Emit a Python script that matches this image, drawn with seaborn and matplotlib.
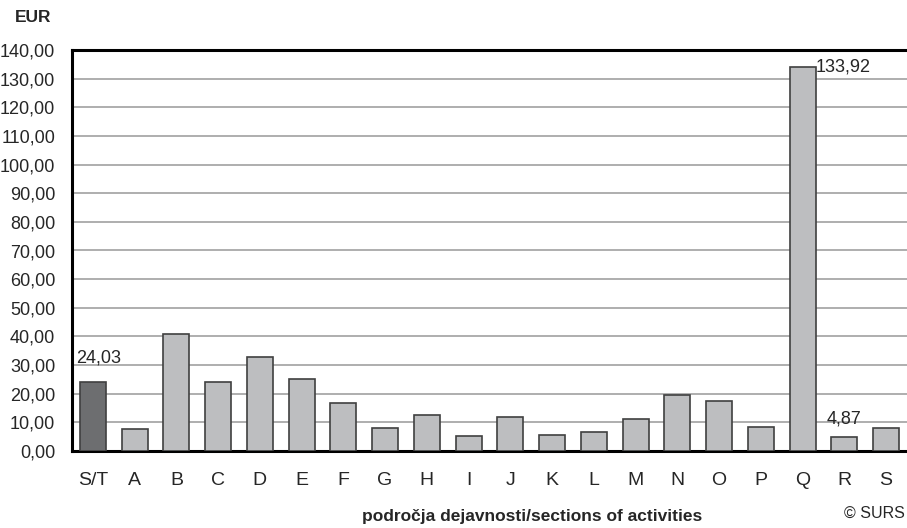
import numpy as np
import pandas as pd
import matplotlib
matplotlib.use("Agg")
import matplotlib.pyplot as plt
import seaborn as sns

categories = ["S/T", "A", "B", "C", "D", "E", "F", "G", "H", "I",
              "J", "K", "L", "M", "N", "O", "P", "Q", "R", "S"]
values = [24.03, 7.6, 41.0, 24.2, 32.9, 25.3, 16.9, 8.1, 12.7, 5.2,
          11.9, 5.6, 6.5, 11.0, 19.4, 17.6, 8.4, 133.92, 4.87, 8.2]
labelled = {"S/T": "24,03", "Q": "133,92", "R": "4,87"}
yticks = np.arange(0, 141, 10)

sns.set_theme(style="white")
plt.rcParams['font.family'] = ['Liberation Sans Narrow', 'Liberation Sans', 'DejaVu Sans']

df = pd.DataFrame({"cat": categories, "val": values})
colors = ["#6d6e70"] + ["#bdbec0"] * (len(categories) - 1)

fig = plt.figure(figsize=(9.07, 5.28), dpi=100)
ax = fig.add_axes([72 / 907, 77 / 528, 835 / 907, 401 / 528])
sns.barplot(data=df, x="cat", y="val", hue="cat", palette=colors, legend=False,
            width=0.62, edgecolor="#404040", linewidth=1.2, ax=ax, zorder=3)

ax.set_xlim(-0.5, -0.5 + 835 / 42.1)
ax.set_ylim(0, 140)
ax.set_yticks(yticks)
ax.set_yticklabels([f"{v:.2f}".replace(".", ",") for v in yticks], fontsize=13)
ax.yaxis.grid(True, color="#a8a8a8", linewidth=1.3, zorder=0)
ax.set_axisbelow(True)
ax.tick_params(axis="y", length=0, pad=12)

ax.set_xticks(np.arange(len(categories)))
ax.set_xticklabels(categories, fontsize=14)
ax.set_xticks(np.arange(len(categories) + 1) - 0.5, minor=True)
ax.tick_params(axis="x", which="major", length=0, pad=15)
ax.tick_params(axis="x", which="minor", length=7, width=1.5, color="black", direction="out")

for s in ["left", "bottom", "top"]:
    ax.spines[s].set_visible(True)
    ax.spines[s].set_color("black")
    ax.spines[s].set_linewidth(2.2)
ax.spines["right"].set_visible(False)

ax.set_xlabel("")
ax.set_ylabel("")

for i, c in enumerate(categories):
    if c not in labelled:
        continue
    v = values[i]
    if c == "Q":
        ax.text(i + 0.32, v + 0.3, labelled[c], fontsize=13, ha="left", va="center")
    elif c == "S/T":
        ax.text(i - 0.4, v + 5.5, labelled[c], fontsize=13, ha="left", va="bottom")
    else:
        ax.text(i, v + 3.5, labelled[c], fontsize=13, ha="center", va="bottom")

fig.text(15 / 907, 1 - 17 / 528, "EUR", fontsize=12.5, fontweight="bold", va="center", ha="left")
fig.text(532 / 907, 1 - 517 / 528, "področja dejavnosti/sections of activities",
         fontsize=12.5, fontweight="bold", va="center", ha="center")
fig.text(905 / 907, 1 - 513 / 528, "© SURS", fontsize=11.5, va="center", ha="right")

fig.savefig("out.png", dpi=100)
